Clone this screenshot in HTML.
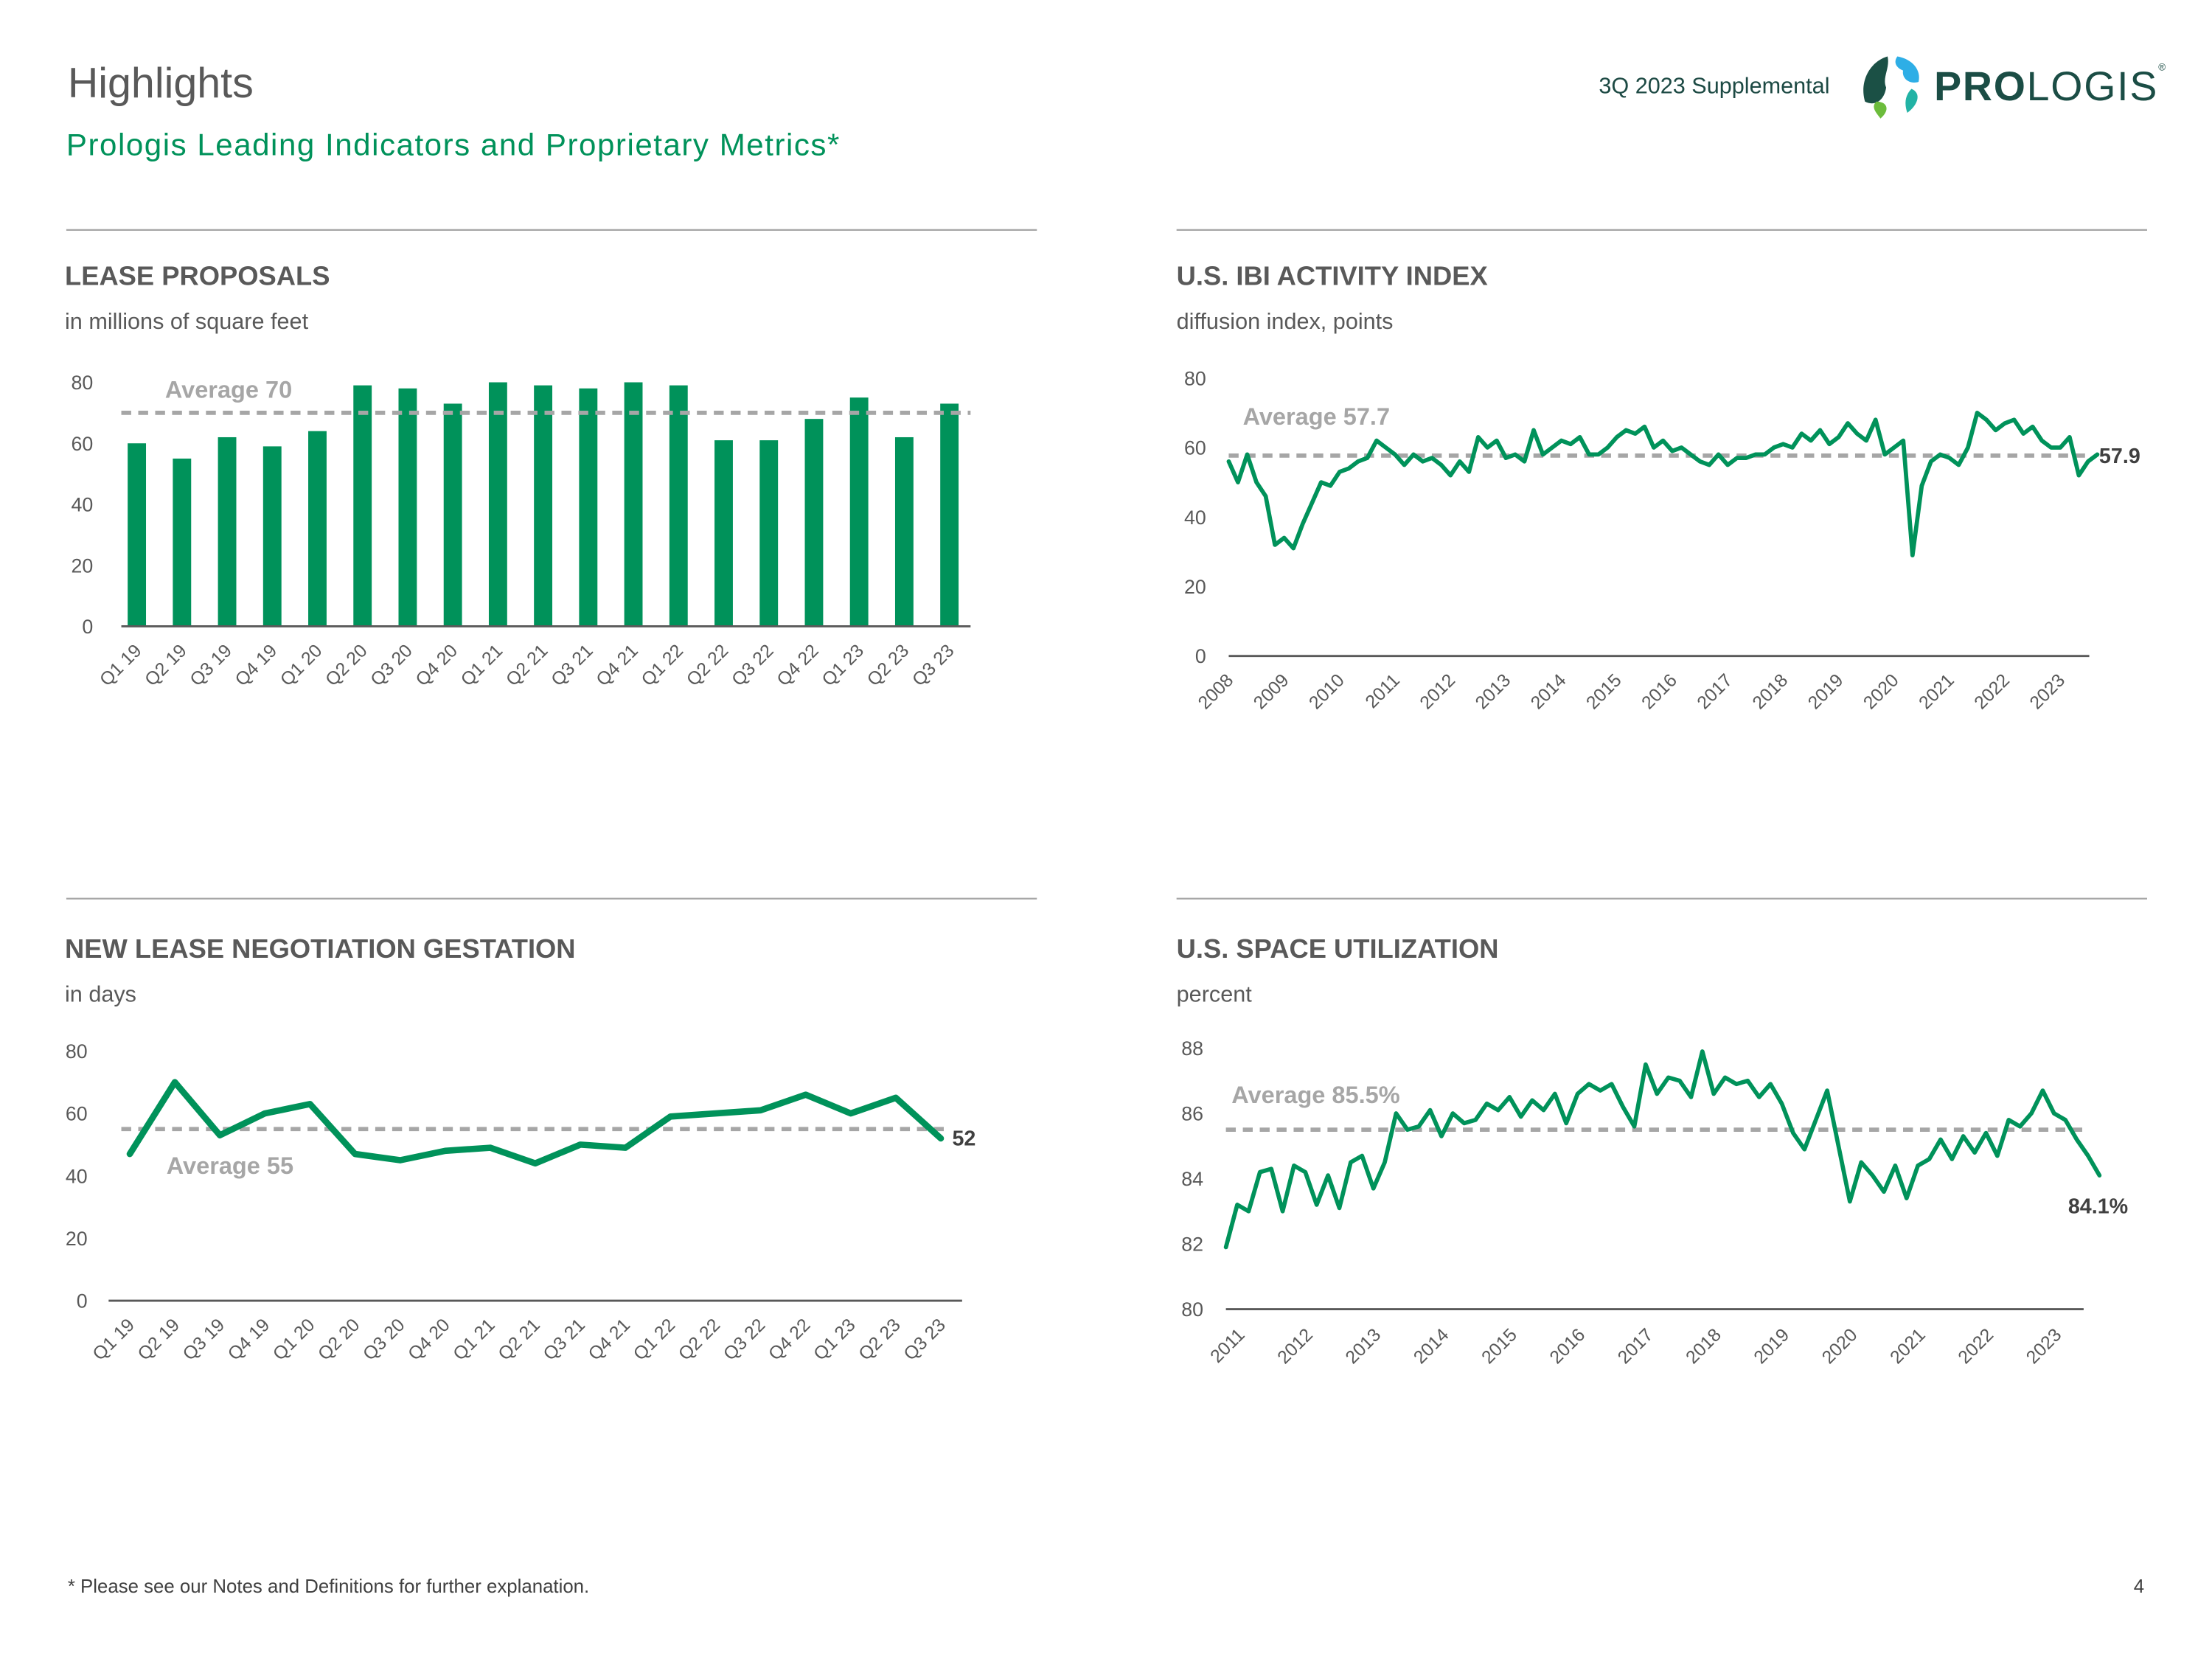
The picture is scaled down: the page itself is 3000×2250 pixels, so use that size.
<!DOCTYPE html>
<html><head><meta charset="utf-8">
<style>
html,body{margin:0;padding:0;background:#fff;}
svg{display:block;}
text{font-family:"Liberation Sans",sans-serif;}
</style></head>
<body>
<svg id="page" width="3000" height="2250" viewBox="0 0 1568 1176" preserveAspectRatio="none" xmlns="http://www.w3.org/2000/svg">
<text x="48" y="69" font-size="30" fill="#595959">Highlights</text>
<text x="47" y="110" font-size="22" fill="#00925a" textLength="548">Prologis Leading Indicators and Proprietary Metrics*</text>
<text x="1297" y="66" font-size="16" fill="#1d4a44" text-anchor="end">3Q 2023 Supplemental</text>
<g>
<path d="M1338 40 C1325 44 1318 58 1322 72 C1330 76 1336 70 1337 62 C1334 55 1340 48 1338 40Z" fill="#1b5045"/>
<path d="M1345 40 C1356 42 1362 50 1360 58 C1354 60 1348 56 1349 50 C1344 48 1342 44 1345 40Z" fill="#2eaee6"/>
<path d="M1355 63 C1362 66 1360 74 1352 80 C1350 74 1350 68 1355 63Z" fill="#22b3a5"/>
<path d="M1330 72 C1338 72 1340 78 1333 84 C1330 80 1326 76 1330 72Z" fill="#6cbc3c"/>
<text x="1371" y="71" font-size="29" font-weight="bold" fill="#1b4d45" textLength="158">PRO<tspan font-weight="normal">LOGIS</tspan></text>
<text x="1530" y="50" font-size="7" fill="#1b4d45">®</text>
</g>
<g id="dividers" stroke="#a6a6a6" stroke-width="1.2">
<line x1="47" y1="163" x2="735" y2="163"/><line x1="834" y1="163" x2="1522" y2="163"/>
<line x1="47" y1="637" x2="735" y2="637"/><line x1="834" y1="637" x2="1522" y2="637"/>
</g>
<g fill="#595959">
<text x="46" y="202" font-size="19" font-weight="bold">LEASE PROPOSALS</text>
<text x="46" y="233" font-size="16">in millions of square feet</text>
<text x="834" y="202" font-size="19" font-weight="bold">U.S. IBI ACTIVITY INDEX</text>
<text x="834" y="233" font-size="16">diffusion index, points</text>
<text x="46" y="679" font-size="19" font-weight="bold">NEW LEASE NEGOTIATION GESTATION</text>
<text x="46" y="710" font-size="16">in days</text>
<text x="834" y="679" font-size="19" font-weight="bold">U.S. SPACE UTILIZATION</text>
<text x="834" y="710" font-size="16">percent</text>
</g>
<g id="c1"></g>
<g id="c2"></g>
<g id="c3"></g>
<g id="c4"></g>
<text x="48" y="1129" font-size="13.5" fill="#404040">* Please see our Notes and Definitions for further explanation.</text>
<text x="1520" y="1129" font-size="13.5" fill="#404040" text-anchor="end">4</text>
</svg>
<script>
const quarters=["Q1 19","Q2 19","Q3 19","Q4 19","Q1 20","Q2 20","Q3 20","Q4 20","Q1 21","Q2 21","Q3 21","Q4 21","Q1 22","Q2 22","Q3 22","Q4 22","Q1 23","Q2 23","Q3 23"];
const leaseProposals=[60,55,62,59,64,79,78,73,80,79,78,80,79,61,61,68,75,62,73];
const leaseAvg=70;
const gestationDays=[47,70,53,60,63,47,45,48,49,44,50,49,59,60,61,66,60,65,52];
const gestationAvg=55;
const ibiStartYear=2008;
const ibiValues=[56,50,58,50,46,32, 34,31,38,44,50,49, 53,54,56,57,62,60, 58,55,58,56,57,55, 52,56,53,63,60,62, 57,58,56,65,58,60, 62,61,63,58,58,60, 63,65,64,66,60,62, 59,60,58,56,55,58, 55,57,57,58,58,60, 61,60,64,62,65,61, 63,67,64,62,68,58, 60,62,29,49,56,58, 57,55,60,70,68,65, 67,68,64,66,62,60, 60,63,52,56,58];
const ibiAvg=57.7;
const ibiYears=["2008","2009","2010","2011","2012","2013","2014","2015","2016","2017","2018","2019","2020","2021","2022","2023"];
const utilStartYear=2011;
const utilValues=[81.9,83.2,83.0,84.2,84.3,83.0, 84.4,84.2,83.2,84.1,83.1,84.5, 84.7,83.7,84.5,86.0,85.5,85.6, 86.1,85.3,86.0,85.7,85.8,86.3, 86.1,86.5,85.9,86.4,86.1,86.6, 85.7,86.6,86.9,86.7,86.9,86.2, 85.6,87.5,86.6,87.1,87.0,86.5, 87.9,86.6,87.1,86.9,87.0,86.5, 86.9,86.3,85.4,84.9,85.8,86.7, 85.0,83.3,84.5,84.1,83.6,84.4, 83.4,84.4,84.6,85.2,84.6,85.3, 84.8,85.4,84.7,85.8,85.6,86.0, 86.7,86.0,85.8,85.2,84.7,84.1];
const utilAvg=85.5;
const utilYears=["2011","2012","2013","2014","2015","2016","2017","2018","2019","2020","2021","2022","2023"];
const ticks80=[0,20,40,60,80];
const ticksUtil=[80,82,84,86,88];

const NS="http://www.w3.org/2000/svg";
function mk(parent,tag,attrs,txt){const e=document.createElementNS(NS,tag);for(const k in attrs)e.setAttribute(k,attrs[k]);if(txt!==undefined)e.textContent=txt;parent.appendChild(e);return e;}
const GREEN="#00925a",GRAY="#a6a6a6",TXT="#595959";

function yTicks(g,ticks,y,x){ticks.forEach(t=>{const e=mk(g,'text',{x:x,y:y(t)+5,'font-size':14,fill:TXT,'text-anchor':'end'},String(t));

});}
function xLabels(g,labels,xf,yTop){labels.forEach((l,i)=>{const x=xf(i);const e=mk(g,'text',{x:x+4,y:yTop+6,'font-size':13,fill:TXT,'text-anchor':'end',transform:`rotate(-45 ${x+4} ${yTop+6})`},l);

});}
function axis(g,x1,x2,y){const e=mk(g,'line',{x1:x1,x2:x2,y1:y,y2:y,stroke:'#595959','stroke-width':1.5});

}
function avgLine(g,x1,x2,y,label,lx,ly){const l=mk(g,'line',{x1:x1,x2:x2,y1:y,y2:y,stroke:GRAY,'stroke-width':3,'stroke-dasharray':'7 5'});


const t=mk(g,'text',{x:lx,y:ly,'font-size':17,'font-weight':'bold',fill:GRAY},label);

}
function poly(g,pts,w){const p=mk(g,'polyline',{points:pts.map(p=>p.join(',')).join(' '),fill:'none',stroke:GREEN,'stroke-width':w,'stroke-linejoin':'round','stroke-linecap':'round'});

}
function endLabel(g,x,y,t){const e=mk(g,'text',{x:x,y:y,'font-size':15,'font-weight':'bold',fill:'#404040'},t);

}

(function(){const g=document.getElementById('c1');
const y=v=>444-v*(173/80), x=i=>97+i*32.0;
yTicks(g,ticks80,y,66);
leaseProposals.forEach((v,i)=>{const r=mk(g,'rect',{x:x(i)-6.5,y:y(v),width:13,height:y(0)-y(v),fill:GREEN});

});
axis(g,86,688,444);
avgLine(g,86,688,y(leaseAvg),'Average 70',117,282);
xLabels(g,quarters,x,456);})();

(function(){const g=document.getElementById('c2');
const y=v=>465-v*(197/80), xt=t=>871+(t-ibiStartYear)*39.3;
yTicks(g,ticks80,y,855);
axis(g,871,1481,465);
avgLine(g,871,1481,y(ibiAvg),'Average 57.7',881,301);
poly(g,ibiValues.map((v,i)=>[xt(ibiStartYear+i/6),y(v)]),3);
endLabel(g,1488,y(ibiValues[ibiValues.length-1])+6,'57.9');
xLabels(g,ibiYears,i=>xt(ibiStartYear+i),477);})();

(function(){const g=document.getElementById('c3');
const y=v=>922-v*(177/80), x=i=>92+i*31.94;
yTicks(g,ticks80,y,62);
axis(g,77,682,922);
avgLine(g,86,672,y(gestationAvg),'Average 55',118,832);
poly(g,gestationDays.map((v,i)=>[x(i),y(v)]),4.5);
endLabel(g,675,y(gestationDays[gestationDays.length-1])+5,'52');
xLabels(g,quarters,x,934);})();

(function(){const g=document.getElementById('c4');
const y=v=>928-(v-80)*(185/8), xt=t=>869+(t-utilStartYear)*48.25;
yTicks(g,ticksUtil,y,853);
axis(g,869,1477,928);
avgLine(g,869,1477,y(utilAvg),'Average 85.5%',873,782);
poly(g,utilValues.map((v,i)=>[xt(utilStartYear+i/6),y(v)]),3);
endLabel(g,1466,860,'84.1%');
xLabels(g,utilYears,i=>xt(utilStartYear+i)+10,941);})();
</script>
</body></html>
